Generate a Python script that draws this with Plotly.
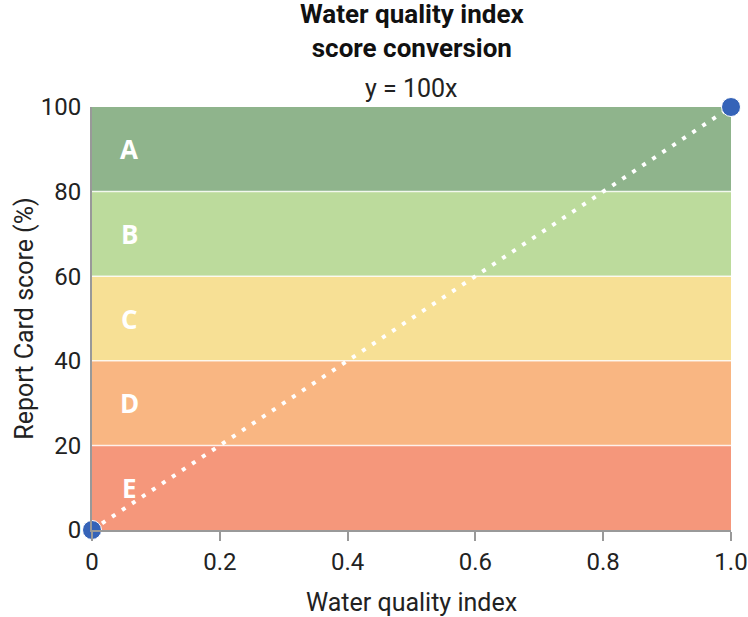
import plotly.graph_objects as go

x_vals = [0, 1]
y_vals = [0, 100]
grades = ["A", "B", "C", "D", "E"]
band_low = [80, 60, 40, 20, 0]
band_high = [100, 80, 60, 40, 20]
band_colors = ["#8fb48c", "#bcdb9c", "#f7e095", "#f9b682", "#f5977b"]
x_ticks = [0, 0.2, 0.4, 0.6, 0.8, 1.0]
x_ticklabels = ["0", "0.2", "0.4", "0.6", "0.8", "1.0"]
y_ticks = [0, 20, 40, 60, 80, 100]

fig = go.Figure()

shapes = []
annotations = []
for g, lo, hi, c in zip(grades, band_low, band_high, band_colors):
    shapes.append(dict(type="rect", xref="x", yref="y", x0=0, x1=1, y0=lo, y1=hi,
                       fillcolor=c, line=dict(width=0), layer="below"))
    annotations.append(dict(x=0.058, y=(lo + hi) / 2, xref="x", yref="y", text=f"<b>{g}</b>",
                            showarrow=False, font=dict(color="white", size=26, family="Open Sans")))
for lo in band_low[:-1]:
    shapes.append(dict(type="line", xref="x", yref="y", x0=0, x1=1, y0=lo, y1=lo,
                       line=dict(color="rgba(255,255,255,0.8)", width=1.5), layer="below"))

fig.add_trace(go.Scatter(x=x_vals, y=y_vals, mode="lines",
                         line=dict(color="white", width=4, dash="4px,8px"),
                         hoverinfo="skip", showlegend=False))
fig.add_trace(go.Scatter(x=x_vals, y=y_vals, mode="markers",
                         marker=dict(color="#3563b8", size=19, line=dict(color="white", width=1)),
                         showlegend=False, cliponaxis=False))

annotations.append(dict(x=0.5, y=1, xref="paper", yref="paper", yanchor="bottom", yshift=2,
                        text="y = 100x", showarrow=False,
                        font=dict(size=25, color="#222", family="Roboto")))
annotations.append(dict(x=0.5, y=1, xref="paper", yref="paper", yanchor="bottom", yshift=42,
                        text="<b>Water quality index<br>score conversion</b>", showarrow=False,
                        font=dict(size=26, color="#111", family="Roboto")))

fig.update_layout(
    width=748, height=617,
    margin=dict(l=92, r=17, t=107, b=87),
    paper_bgcolor="white", plot_bgcolor="white",
    font=dict(family="Roboto", color="#222"),
    shapes=shapes, annotations=annotations,
    xaxis=dict(range=[0, 1], tickvals=x_ticks, ticktext=x_ticklabels, showgrid=False, zeroline=False,
               showline=True, linecolor="#999", linewidth=2, ticks="outside", tickcolor="#999",
               ticklen=9, tickwidth=2, tickfont=dict(size=24, color="#222"),
               automargin=False,
               title=dict(text="Water quality index", font=dict(size=25, color="#222"), standoff=22)),
    yaxis=dict(range=[0, 100], tickvals=y_ticks, showgrid=False, zeroline=False,
               showline=True, linecolor="#999", linewidth=2, ticks="", ticklen=0,
               tickfont=dict(size=24, color="#222"), automargin=False, ticklabelstandoff=4,
               title=dict(text="Report Card score (%)", font=dict(size=25, color="#222"), standoff=0)),
)

fig.write_html("out.html", config={"displayModeBar": False},
               post_script="document.body.style.margin='0';")
